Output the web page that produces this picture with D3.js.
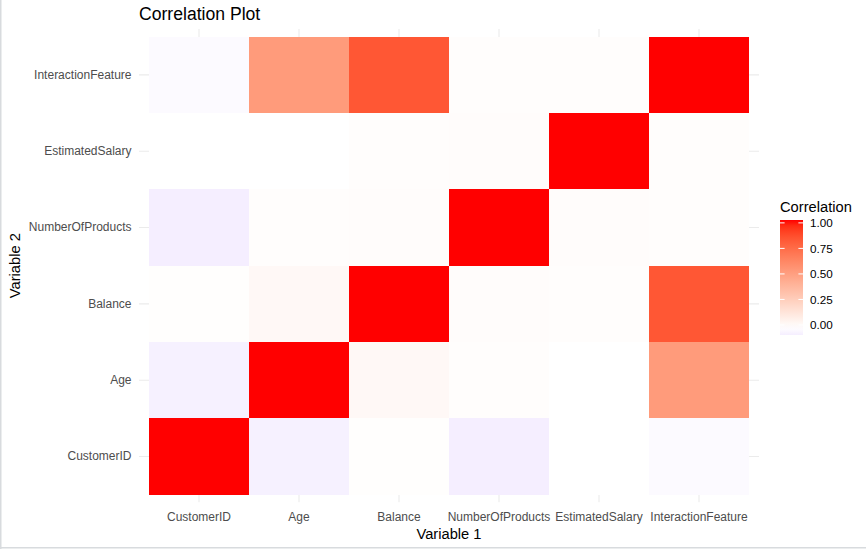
<!DOCTYPE html>
<html>
<head>
<meta charset="utf-8">
<script src="https://cdn.jsdelivr.net/npm/d3@7"></script>
<style>
  body { margin: 0; background: #fff; }
  text { font-family: "Liberation Sans", Arial, sans-serif; }
</style>
</head>
<body>
<div class="heatmap"></div>
<script>
var variables = ["CustomerID", "Age", "Balance", "NumberOfProducts", "EstimatedSalary", "InteractionFeature"];

// one row of the correlation matrix per variable
var corCustomerID         = [1.000, -0.060, 0.006, -0.070, 0.001, -0.020];
var corAge                = [-0.060, 1.000, 0.035, 0.012, -0.002, 0.520];
var corBalance            = [0.006, 0.035, 1.000, 0.015, 0.012, 0.820];
var corNumberOfProducts   = [-0.070, 0.012, 0.015, 1.000, 0.014, 0.012];
var corEstimatedSalary    = [0.001, -0.002, 0.012, 0.014, 1.000, 0.010];
var corInteractionFeature = [-0.020, 0.520, 0.820, 0.012, 0.010, 1.000];

var legendTicks = [0, 0.25, 0.5, 0.75, 1];

var rows = [corCustomerID, corAge, corBalance, corNumberOfProducts, corEstimatedSalary, corInteractionFeature];
var cells = [];
rows.forEach(function(r, i) {
  r.forEach(function(v, j) {
    cells.push({ var1: variables[j], var2: variables[i], value: v });
  });
});

var width = 866;
var height = 550;

var svg = d3.select(".heatmap")
            .append("svg")
              .attr("width", width)
              .attr("height", height);

// frame of the screenshot
svg.append("rect").attr("x", 0).attr("y", 0).attr("width", 1.5).attr("height", 549).attr("fill", "#d8dbde");
svg.append("rect").attr("x", 0).attr("y", 547).attr("width", width).attr("height", 1.5).attr("fill", "#d8dbde");

var x = d3.scaleBand().domain(variables).range([149, 749]);
var y = d3.scaleBand().domain(variables).range([494.7, 36.7]);

// panel with ggplot's discrete expansion
var padX = x.bandwidth() * 0.1, padY = y.bandwidth() * 0.1;
var panel = { left: 149 - padX, right: 749 + padX, top: 36.7 - padY, bottom: 494.7 + padY };

var color = d3.scaleLinear()
  .domain([-1, 0, 1])
  .range(["blue", "white", "red"])
  .interpolate(d3.interpolateLab);

// grid lines
svg.selectAll("line.vgrid")
   .data(variables)
   .enter()
   .append("line")
    .attr("x1", function(d) { return x(d) + x.bandwidth() / 2; })
    .attr("x2", function(d) { return x(d) + x.bandwidth() / 2; })
    .attr("y1", panel.top)
    .attr("y2", panel.bottom)
    .attr("stroke", "#ebebeb")
    .attr("stroke-width", 1.1);

svg.selectAll("line.hgrid")
   .data(variables)
   .enter()
   .append("line")
    .attr("y1", function(d) { return y(d) + y.bandwidth() / 2; })
    .attr("y2", function(d) { return y(d) + y.bandwidth() / 2; })
    .attr("x1", panel.left)
    .attr("x2", panel.right)
    .attr("stroke", "#ebebeb")
    .attr("stroke-width", 1.1);

// tiles
svg.selectAll("rect.tile")
   .data(cells)
   .enter()
   .append("rect")
    .attr("x", function(d) { return x(d.var1); })
    .attr("y", function(d) { return y(d.var2); })
    .attr("width", x.bandwidth())
    .attr("height", y.bandwidth())
    .attr("fill", function(d) { return color(d.value); })
    .attr("shape-rendering", "crispEdges");

// axes
var xAxis = svg.append("g")
  .attr("transform", "translate(0," + panel.bottom + ")")
  .call(d3.axisBottom(x).tickSize(0).tickPadding(10));
var yAxis = svg.append("g")
  .attr("transform", "translate(" + panel.left + ",0)")
  .call(d3.axisLeft(y).tickSize(0).tickPadding(7.5));

[xAxis, yAxis].forEach(function(g) {
  g.select(".domain").remove();
  g.selectAll("text")
    .attr("font-family", "Liberation Sans, Arial, sans-serif")
    .attr("font-size", "12px")
    .attr("fill", "#4d4d4d");
});

// titles
svg.append("text")
   .text("Correlation Plot")
   .attr("x", panel.left)
   .attr("y", 19.5)
   .attr("font-size", "17.6px")
   .attr("fill", "black");

svg.append("text")
   .text("Variable 1")
   .attr("x", (panel.left + panel.right) / 2)
   .attr("y", 538.5)
   .attr("text-anchor", "middle")
   .attr("font-size", "14.7px")
   .attr("fill", "black");

svg.append("text")
   .text("Variable 2")
   .attr("transform", "translate(20," + ((panel.top + panel.bottom) / 2) + ") rotate(-90)")
   .attr("text-anchor", "middle")
   .attr("font-size", "14.7px")
   .attr("fill", "black");

// legend (colour bar)
var minVal = d3.min(cells, function(d) { return d.value; });
var maxVal = d3.max(cells, function(d) { return d.value; });
var barTop = 220, barBottom = 335, barLeft = 780, barWidth = 23;
var inset = (barBottom - barTop) / 40;
var ly = d3.scaleLinear().domain([minVal, maxVal]).range([barBottom - inset, barTop + inset]);

var grad = svg.append("defs").append("linearGradient")
  .attr("id", "corgrad")
  .attr("x1", 0).attr("y1", 1).attr("x2", 0).attr("y2", 0);
d3.range(0, 1.0001, 0.05).forEach(function(t) {
  grad.append("stop")
    .attr("offset", t)
    .attr("stop-color", color(minVal + t * (maxVal - minVal)));
});

svg.append("text")
   .text("Correlation")
   .attr("x", barLeft)
   .attr("y", 211.5)
   .attr("font-size", "14.7px")
   .attr("fill", "black");

svg.append("rect")
   .attr("x", barLeft)
   .attr("y", barTop)
   .attr("width", barWidth)
   .attr("height", barBottom - barTop)
   .attr("fill", "url(#corgrad)");

svg.selectAll("line.ltick")
   .data(legendTicks)
   .enter()
   .append("g")
   .each(function(d) {
     var g = d3.select(this);
     g.append("line")
       .attr("x1", barLeft).attr("x2", barLeft + 4.6)
       .attr("y1", ly(d)).attr("y2", ly(d))
       .attr("stroke", "white").attr("stroke-width", 1);
     g.append("line")
       .attr("x1", barLeft + barWidth - 4.6).attr("x2", barLeft + barWidth)
       .attr("y1", ly(d)).attr("y2", ly(d))
       .attr("stroke", "white").attr("stroke-width", 1);
     g.append("text")
       .text(d3.format(".2f")(d))
       .attr("x", 810)
       .attr("y", ly(d))
       .attr("dy", "0.36em")
       .attr("font-size", "11.7px")
       .attr("fill", "black");
   });
</script>
</body>
</html>
